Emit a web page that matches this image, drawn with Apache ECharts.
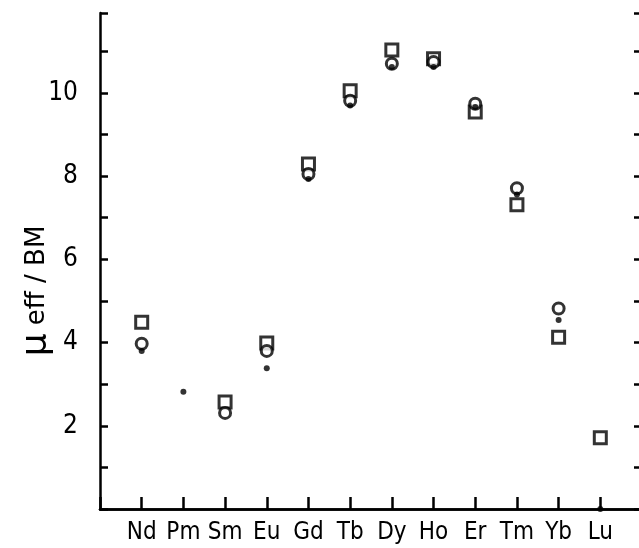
<!DOCTYPE html>
<html>
<head>
<meta charset="utf-8">
<script src="https://cdn.jsdelivr.net/npm/echarts@6/dist/echarts.min.js"></script>
<style>html,body{margin:0;padding:0;background:#fff}#c{width:639px;height:548px}</style>
</head>
<body>
<div id="c"></div>
<script>
var categories = ['Nd','Pm','Sm','Eu','Gd','Tb','Dy','Ho','Er','Tm','Yb','Lu'];
var squareValues = [4.49, null, 2.57, 3.99, 8.29, 10.05, 11.03, 10.82, 9.54, 7.31, 4.13, 1.71];
var circleValues = [3.97, null, 2.31, 3.80, 8.05, 9.81, 10.70, 10.74, 9.74, 7.71, 4.82, null];
var dotValues    = [3.80, 2.82, null, 3.38, 7.93, 9.70, 10.62, 10.62, 9.66, 7.56, 4.54, 0];
var yTickLabels  = [2, 4, 6, 8, 10];

var axisCats = [''].concat(categories).concat(['']);
function pad(arr){ return [null].concat(arr).concat([null]); }

var INK = '#000';
var FONT = '"DejaVu Sans Condensed","Liberation Sans Narrow","DejaVu Sans",sans-serif';
var NAMEFONT = '"DejaVu Sans",sans-serif';
var chart = echarts.init(document.getElementById('c'));
chart.setOption({
  backgroundColor: '#fff',
  animation: false,
  grid: {left: 100, top: 13, height: 496, width: 542, containLabel: false, outerBoundsMode: 'none'},
  xAxis: [{
    type: 'category', data: axisCats, boundaryGap: false, position: 'bottom',
    axisLine: {show: true, lineStyle: {color: INK, width: 2.5}},
    axisTick: {show: true, inside: true, length: 12, interval: 0, lineStyle: {color: INK, width: 2.5}},
    axisLabel: {interval: 0, color: INK, fontFamily: FONT, fontSize: 24, margin: 12},
    splitLine: {show: false}
  }, {
    type: 'category', data: axisCats, boundaryGap: false, position: 'top',
    axisLine: {show: true, lineStyle: {color: INK, width: 2.5}},
    axisTick: {show: false}, axisLabel: {show: false}, splitLine: {show: false}
  }],
  yAxis: [{
    type: 'value', min: 0, max: 11.92, interval: 1, position: 'left',
    name: '{mu|μ} eff / BM', nameLocation: 'middle', nameGap: 45, nameRotate: 90,
    nameMoveOverlap: false,
    nameTextStyle: {color: INK, fontFamily: NAMEFONT, fontSize: 26, padding: [0, 60, 0, 0],
      rich: {mu: {fontSize: 36, fontFamily: NAMEFONT, color: INK}}},
    axisLine: {show: true, lineStyle: {color: INK, width: 2.5}},
    axisTick: {show: true, inside: true, length: 8, lineStyle: {color: INK, width: 2.5}},
    axisLabel: {color: INK, fontFamily: FONT, fontSize: 26, margin: 22, padding: [0, 0, 20, 0],
      formatter: function(v){ return yTickLabels.indexOf(v) >= 0 ? String(v) : ''; }},
    splitLine: {show: false}
  }, {
    type: 'value', min: 0, max: 11.92, interval: 1, position: 'right',
    axisLine: {show: true, lineStyle: {color: INK, width: 2.5}},
    axisTick: {show: true, inside: true, length: 8, lineStyle: {color: INK, width: 2.5}},
    axisLabel: {show: false}, splitLine: {show: false}
  }],
  series: [{
    type: 'scatter', data: pad(squareValues), symbol: 'rect', symbolSize: 12,
    itemStyle: {color: '#fff', borderColor: INK, borderWidth: 3}, z: 3
  }, {
    type: 'scatter', data: pad(circleValues), symbol: 'circle', symbolSize: 11,
    itemStyle: {color: '#fff', borderColor: INK, borderWidth: 3}, z: 4
  }, {
    type: 'scatter', data: pad(dotValues), symbol: 'circle', symbolSize: 6,
    itemStyle: {color: INK}, z: 5
  }]
});
</script>
</body>
</html>
